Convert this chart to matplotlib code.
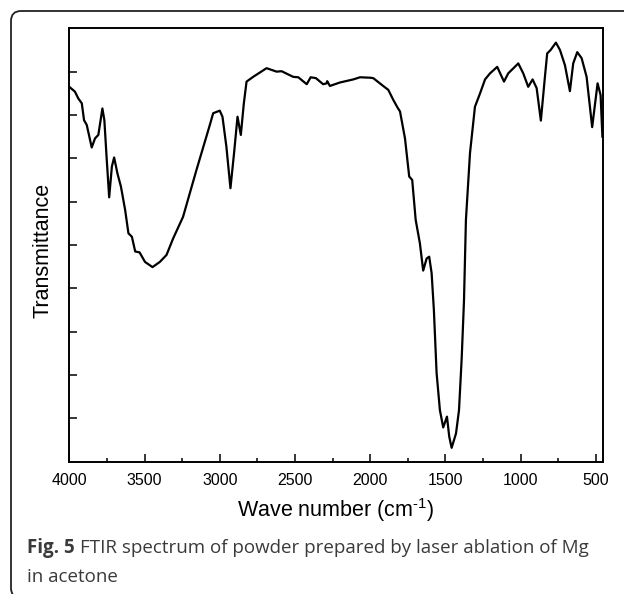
import numpy as np
import matplotlib
matplotlib.use("Agg")
import matplotlib.pyplot as plt
from matplotlib.patches import FancyBboxPatch
from matplotlib.transforms import IdentityTransform
from matplotlib.ticker import MultipleLocator

plt.rcParams["mathtext.fontset"] = "custom"
plt.rcParams["mathtext.rm"] = "Liberation Sans"

# FTIR spectrum (wave number in cm^-1, transmittance in arb. units)
wavenumber = [4000, 3963, 3940, 3917, 3902, 3884, 3851, 3829, 3807, 3780,
              3767, 3751, 3735, 3717, 3702, 3680, 3657, 3629, 3607, 3584,
              3562, 3533, 3497, 3447, 3398, 3354, 3310, 3244, 3155, 3066,
              3044, 3000, 2982, 2956, 2929, 2905, 2882, 2860, 2840, 2822,
              2778, 2689, 2622, 2589, 2512, 2478, 2422, 2396, 2361, 2313,
              2290, 2286, 2268, 2201, 2113, 2068, 2001, 1980, 1914, 1880,
              1847, 1820, 1802, 1769, 1741, 1721, 1698, 1670, 1648, 1625,
              1608, 1592, 1577, 1559, 1537, 1515, 1490, 1475, 1459, 1430,
              1410, 1392, 1377, 1364, 1337, 1304, 1270, 1237, 1204, 1156,
              1111, 1083, 1016, 983, 950, 921, 894, 866, 839, 824,
              801, 766, 739, 706, 673, 651, 624, 595, 562, 525,
              489, 469, 457]
transmittance = [86.5, 85.4, 83.8, 82.7, 78.8, 77.7, 72.5, 74.6, 75.4, 81.5,
                 78.8, 69.6, 61.0, 68.1, 70.2, 66.5, 63.5, 58.1, 52.7, 51.9,
                 48.5, 48.3, 46.1, 44.9, 46.1, 47.7, 51.5, 56.5, 67.3, 77.7,
                 80.4, 81.0, 79.6, 72.7, 63.1, 71.2, 79.6, 75.4, 82.7, 87.7,
                 88.8, 90.8, 90.0, 90.1, 88.8, 88.7, 87.1, 88.7, 88.5, 87.1,
                 87.3, 87.8, 86.7, 87.5, 88.2, 88.7, 88.6, 88.5, 86.7, 85.8,
                 83.5, 81.8, 80.8, 74.6, 65.8, 65.0, 55.8, 50.4, 44.1, 46.9,
                 47.3, 43.5, 35.0, 20.5, 11.9, 7.9, 10.4, 5.8, 3.2, 6.5,
                 11.9, 24.0, 37.0, 55.8, 71.2, 81.9, 85.0, 88.2, 89.6, 91.1,
                 87.7, 89.6, 91.9, 89.6, 86.5, 88.2, 86.2, 78.7, 88.8, 94.2,
                 95.0, 96.7, 95.0, 91.5, 85.5, 91.9, 94.5, 93.1, 88.8, 77.2,
                 87.3, 84.6, 75.0]

x_ticks = [4000, 3500, 3000, 2500, 2000, 1500, 1000, 500]

W, H = 624, 594
fig = plt.figure(figsize=(W / 100, H / 100), dpi=100)
ax = fig.add_axes([69.3 / W, 1 - 461.7 / H, (602.7 - 69.3) / W, (461.7 - 28.3) / H])

ax.plot(wavenumber, transmittance, color="black", linewidth=1.6)

ax.set_xlim(4000, 455)
ax.set_ylim(0, 100)
ax.set_xticks(x_ticks)
ax.xaxis.set_minor_locator(MultipleLocator(250))
ax.set_yticks(np.arange(10, 100, 10))
ax.set_yticklabels([])

ax.tick_params(axis="both", which="major", direction="in", length=6, width=1.1,
               labelsize=11.5, pad=8)
ax.tick_params(axis="x", which="minor", direction="in", length=3, width=1.1)
for lbl in ax.get_xticklabels():
    lbl.set_family("Liberation Sans")
for sp in ax.spines.values():
    sp.set_linewidth(1.4)

try:
    xlab = "Wave number (cm$^{\\text{-}1}$)"
    ax.set_xlabel(xlab, fontsize=15.5, family="Liberation Sans", labelpad=6)
    fig.canvas.draw()
except Exception:
    ax.set_xlabel("Wave number (cm$^{-1}$)", fontsize=15.5, family="Liberation Sans", labelpad=6)
ax.set_ylabel("Transmittance", fontsize=15.5, family="Liberation Sans")
ax.yaxis.set_label_coords(-0.029, 0.488)

# caption under the chart
cap_color = "#3a3a3a"
cap_size = 13.5
t = fig.text(27 / W, 1 - 548 / H, "Fig. 5", fontsize=cap_size, fontweight="bold",
             family="Open Sans", color=cap_color, va="center", ha="left")
fig.canvas.draw()
bb = t.get_window_extent()
fig.text((bb.x1 + 5) / W, 1 - 548 / H,
         "FTIR spectrum of powder prepared by laser ablation of Mg",
         fontsize=cap_size, family="Open Sans", color=cap_color, va="center", ha="left")
fig.text(27 / W, 1 - 577 / H, "in acetone", fontsize=cap_size, family="Open Sans",
         color=cap_color, va="center", ha="left")

# rounded outer frame (only top and left sides fall inside the image)
frame = FancyBboxPatch((11, -4), 720, H - 11 + 4, boxstyle="round,pad=0,rounding_size=10",
                       transform=IdentityTransform(), fill=False,
                       edgecolor="#222222", linewidth=1.3)
fig.patches.append(frame)

fig.savefig("out.png", dpi=100)
